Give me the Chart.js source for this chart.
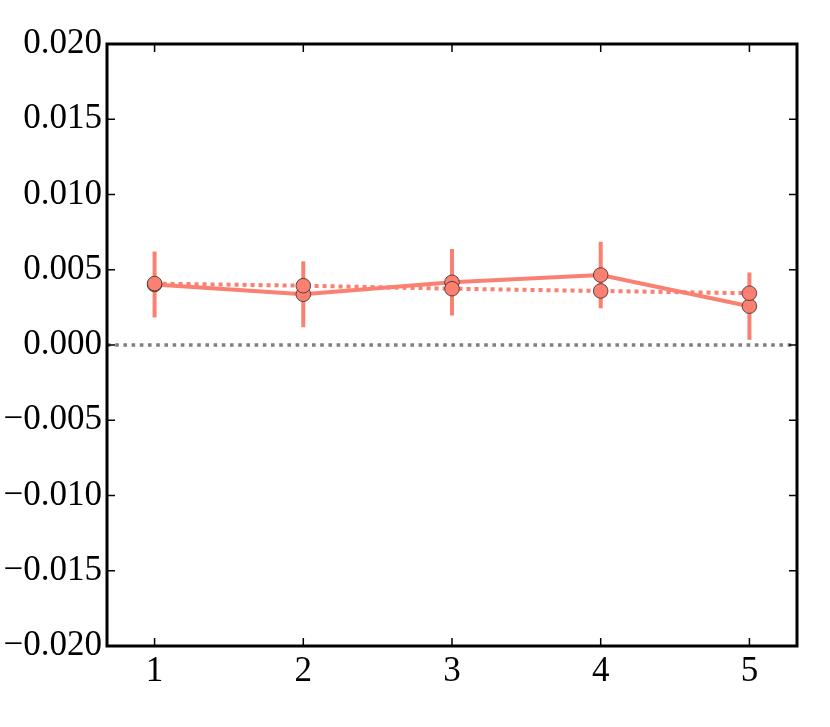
<!DOCTYPE html>
<html>
<head>
<meta charset="utf-8">
<script src="https://cdn.jsdelivr.net/npm/chart.js@4.4.0/dist/chart.umd.min.js"></script>
<style>
  html, body { margin: 0; padding: 0; background: #fff; }
  canvas { display: block; }
</style>
</head>
<body>
<canvas id="chart" width="830" height="727"></canvas>
<script>
// values
var xValues = [1, 2, 3, 4, 5];
var solidValues = [0.00402, 0.00337, 0.00417, 0.00465, 0.00258];
var solidErrors = [0.00219, 0.00219, 0.00221, 0.00221, 0.00224];
var dottedValues = [0.00408, 0.00394, 0.00374, 0.00359, 0.00344];
var xTicks = [1, 2, 3, 4, 5];
var yTicks = [-0.02, -0.015, -0.01, -0.005, 0, 0.005, 0.01, 0.015, 0.02];

var salmon = "#fa8072";

function toPoints(vals) {
  var pts = [];
  for (var i = 0; i < xValues.length; i++) {
    pts.push({ x: xValues[i], y: vals[i] });
  }
  return pts;
}

// zero line, error bars, frame and inward ticks
var extras = {
  id: "extras",
  beforeDatasetsDraw: function(chart) {
    var ctx = chart.ctx;
    var xs = chart.scales.x, ys = chart.scales.y;
    var a = chart.chartArea;
    ctx.save();
    // dotted zero line
    ctx.strokeStyle = "#808080";
    ctx.lineWidth = 3.3;
    ctx.setLineDash([3.6, 4.6]);
    var y0 = ys.getPixelForValue(0);
    ctx.beginPath();
    ctx.moveTo(a.left, y0);
    ctx.lineTo(a.right, y0);
    ctx.stroke();
    ctx.setLineDash([]);
    // error bars
    ctx.strokeStyle = salmon;
    ctx.lineWidth = 4;
    for (var i = 0; i < xValues.length; i++) {
      var px = xs.getPixelForValue(xValues[i]);
      ctx.beginPath();
      ctx.moveTo(px, ys.getPixelForValue(solidValues[i] - solidErrors[i]));
      ctx.lineTo(px, ys.getPixelForValue(solidValues[i] + solidErrors[i]));
      ctx.stroke();
    }
    ctx.restore();
  },
  afterDraw: function(chart) {
    var ctx = chart.ctx;
    var xs = chart.scales.x, ys = chart.scales.y;
    var a = chart.chartArea;
    ctx.save();
    ctx.strokeStyle = "#000";
    ctx.lineWidth = 3;
    ctx.strokeRect(a.left, a.top, a.right - a.left, a.bottom - a.top);
    ctx.lineWidth = 1.5;
    var len = 8;
    ctx.beginPath();
    yTicks.forEach(function(v) {
      var py = ys.getPixelForValue(v);
      ctx.moveTo(a.left, py); ctx.lineTo(a.left + len, py);
      ctx.moveTo(a.right, py); ctx.lineTo(a.right - len, py);
    });
    xTicks.forEach(function(v) {
      var px = xs.getPixelForValue(v);
      ctx.moveTo(px, a.bottom); ctx.lineTo(px, a.bottom - len);
      ctx.moveTo(px, a.top); ctx.lineTo(px, a.top + len);
    });
    ctx.stroke();
    ctx.restore();
  }
};

var ctx = document.getElementById("chart");

var chart = new Chart(ctx, {
  type: "line",
  data: {
    datasets: [{
      label: "dotted",
      data: toPoints(dottedValues),
      borderColor: salmon,
      borderWidth: 4,
      borderDash: [4, 4],
      backgroundColor: salmon,
      pointBackgroundColor: salmon,
      pointBorderColor: "#3a2a28",
      pointBorderWidth: 0.8,
      pointRadius: 7.3,
      fill: false,
      tension: 0
    }, {
      label: "solid",
      data: toPoints(solidValues),
      borderColor: salmon,
      borderWidth: 4,
      backgroundColor: salmon,
      pointBackgroundColor: salmon,
      pointBorderColor: "#3a2a28",
      pointBorderWidth: 0.8,
      pointRadius: 7.3,
      fill: false,
      tension: 0
    }]
  },
  options: {
    responsive: false,
    animation: false,
    layout: { padding: { left: 0, right: 33, top: 44, bottom: 0 } },
    plugins: {
      legend: { display: false },
      tooltip: { enabled: false }
    },
    scales: {
      x: {
        type: "linear",
        min: 0.68,
        max: 5.32,
        afterBuildTicks: function(scale) {
          scale.ticks = xTicks.map(function(v) { return { value: v }; });
        },
        afterFit: function(scale) { scale.height = 81; },
        grid: { display: false, drawTicks: false },
        border: { display: false },
        ticks: {
          padding: 5,
          color: "#000",
          font: { family: "Liberation Serif", size: 35 },
          maxRotation: 0,
          callback: function(v) { return String(v); }
        }
      },
      y: {
        min: -0.02,
        max: 0.02,
        afterBuildTicks: function(scale) {
          scale.ticks = yTicks.map(function(v) { return { value: v }; });
        },
        afterFit: function(scale) { scale.width = 107; },
        grid: { display: false, drawTicks: false },
        border: { display: false },
        ticks: {
          padding: 5,
          color: "#000",
          font: { family: "Liberation Serif", size: 35 },
          callback: function(v) {
            return v.toFixed(3).replace("-", "\u2212");
          }
        }
      }
    }
  },
  plugins: [extras]
});
</script>
</body>
</html>
